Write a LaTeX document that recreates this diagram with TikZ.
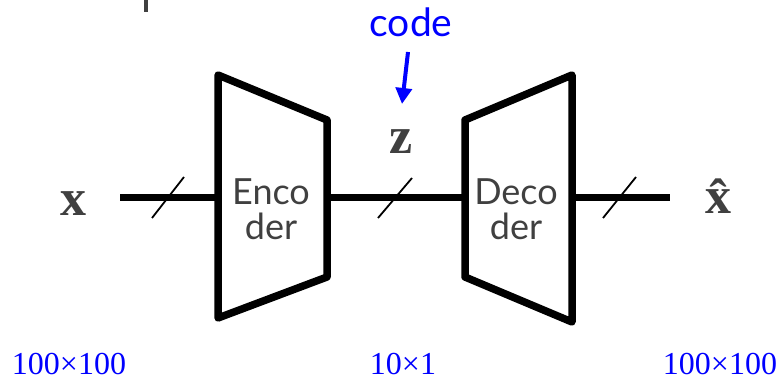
\documentclass[tikz,border=0pt]{standalone}
\usepackage{fontspec}
\setmainfont{Liberation Serif}
\newfontfamily\labelsans{Lato}
\usetikzlibrary{arrows.meta}
\definecolor{ink}{HTML}{404040}
\definecolor{codeblue}{RGB}{0,0,255}
\begin{document}
\begin{tikzpicture}[x=1pt,y=-1pt,
  block/.style={line width=7.5pt, line join=round},
  wire/.style={line width=7pt},
  tick/.style={line width=1.8pt},
  blocktext/.style={font=\labelsans\fontsize{36}{35}\selectfont, text=ink, align=center, inner sep=0pt},
  var/.style={font=\bfseries\fontsize{52}{52}\selectfont, text=ink, inner sep=0pt},
  dim/.style={font=\fontsize{32}{32}\selectfont, text=codeblue, inner sep=0pt, text depth=0pt},
  codelabel/.style={font=\labelsans\fontsize{39}{39}\selectfont, text=codeblue, inner sep=0pt},
]
\useasboundingbox (0,0) rectangle (778,379);
\fill[ink] (144,0) rectangle (148,12);

% encoder
\coordinate (e1) at (218,75);
\coordinate (e2) at (327,120);
\coordinate (e3) at (327,277);
\coordinate (e4) at (218,318);
\draw[block] (e1) -- (e2) -- (e3) -- (e4) -- cycle;
\node[blocktext] (enc) at (271,209) {Enco\\der};

% decoder
\coordinate (d1) at (465,120);
\coordinate (d2) at (572,75);
\coordinate (d3) at (572,322);
\coordinate (d4) at (465,277);
\draw[block] (d1) -- (d2) -- (d3) -- (d4) -- cycle;
\node[blocktext] (dec) at (516,209) {Deco\\der};

% wire end points
\coordinate (win) at (120,198);
\coordinate (ein) at (218,198);
\coordinate (eout) at (327,198);
\coordinate (din) at (465,198);
\coordinate (dout) at (572,198);
\coordinate (wout) at (670,198);
\draw[wire] (win) -- (ein);
\draw[wire] (eout) -- (din);
\draw[wire] (dout) -- (wout);

% slashes
\draw[tick] (152,218) -- (184,177);
\draw[tick] (378,218) -- (412,178);
\draw[tick] (603,218) -- (636,177);

% variables
\node[var] (x) at (73,204) {x};
\node[var] (z) at (401,142) {z};
\node[var] (xh) at (718,196) {\^{x}};

% code label and arrow
\node[codelabel, anchor=base] (code) at (411,37) {code};
\coordinate (cstart) at (408,52);
\coordinate (ctip) at (402,104);
\draw[codeblue, line width=4pt, -{Triangle[length=16pt,width=16pt]}] (cstart) -- (ctip);

% dimensions
\node[dim, anchor=base] (dimin) at (69,374) {100×100};
\node[dim, anchor=base] (dimz) at (403,374) {10×1};
\node[dim, anchor=base] (dimout) at (720,374) {100×100};
\end{tikzpicture}
\end{document}
